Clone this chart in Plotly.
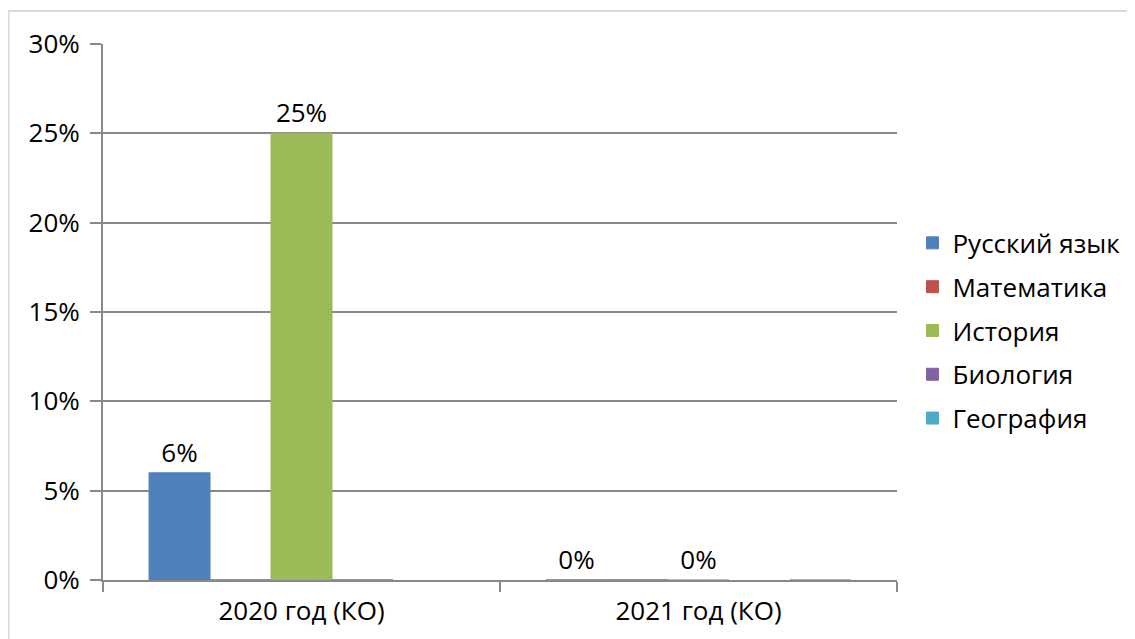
import plotly.graph_objects as go

categories = ["2020 год (КО)", "2021 год (КО)"]
series_names = ["Русский язык", "Математика", "История", "Биология", "География"]
russian = [0.06, 0.0]
math = [0.0, 0.0]
history = [0.25, 0.0]
biology = [0.0, None]
geography = [None, 0.0]
values = [russian, math, history, biology, geography]
colors = ["#4F81BD", "#C0504D", "#9BBB59", "#8064A2", "#4BACC6"]
show_labels = [True, False, True, False, False]

FONT = "Open Sans"
FS = 26
AXIS_COLOR = "#898989"

fig = go.Figure()
for name, vals, col, lab in zip(series_names, values, colors, show_labels):
    fig.add_trace(go.Bar(
        x=categories, y=vals, name=name, legendgroup=name,
        marker=dict(color=col, line=dict(color=col, width=1)),
        texttemplate="%{y:.0%}" if lab else None,
        textposition="outside" if lab else "none",
        textfont=dict(family=FONT, size=FS, color="#000000"),
        cliponaxis=False,
    ))

fig.update_layout(
    width=1127, height=631,
    margin=dict(l=95, r=238, t=36, b=59, autoexpand=False),
    paper_bgcolor="white", plot_bgcolor="white",
    barmode="group", bargap=0.232, bargroupgap=0,
    font=dict(family=FONT, size=FS, color="#000000"),
    showlegend=True,
    legend=dict(x=1.0195, y=0.4646, xanchor="left", yanchor="middle",
                font=dict(family=FONT, size=FS), tracegroupgap=7,
                itemwidth=30),
    xaxis=dict(type="category", showgrid=False, showline=True, linecolor=AXIS_COLOR,
               linewidth=2, ticks="outside", tickson="boundaries", ticklen=10,
               tickwidth=2, tickcolor=AXIS_COLOR, ticklabelstandoff=7,
               automargin=False, tickfont=dict(family=FONT, size=FS)),
    yaxis=dict(range=[0, 0.30], dtick=0.05, tickformat=".0%", showgrid=True,
               gridcolor=AXIS_COLOR, gridwidth=2, showline=True, linecolor=AXIS_COLOR,
               linewidth=2, ticks="outside", ticklen=11, tickwidth=2,
               tickcolor=AXIS_COLOR, zeroline=False, ticklabelstandoff=5,
               automargin=False, tickfont=dict(family=FONT, size=FS)),
)
fig.add_shape(type="rect", xref="paper", yref="paper",
              x0=-0.1190, x1=1.6, y0=-0.3, y1=1.0616,
              line=dict(color="#d9d9d9", width=2), layer="below")

fig.write_html("out.html")
